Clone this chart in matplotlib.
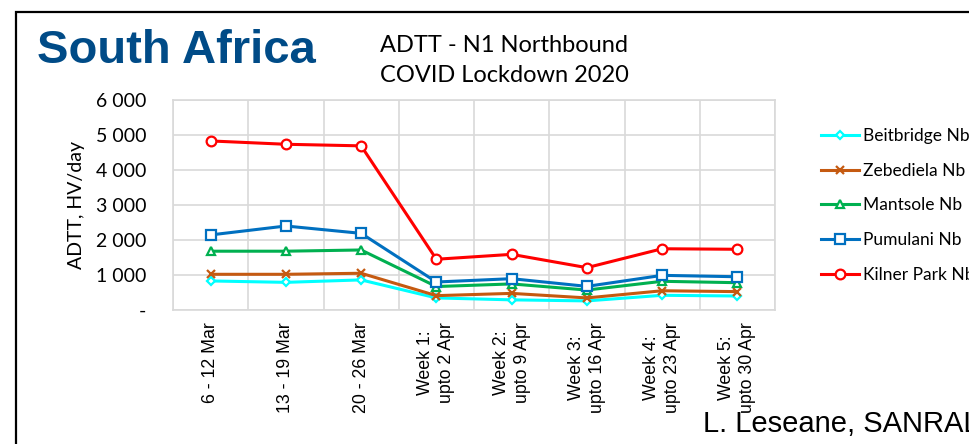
import matplotlib
matplotlib.use("Agg")
import matplotlib.pyplot as plt
from matplotlib.patches import Rectangle
from matplotlib.ticker import FuncFormatter, MultipleLocator, FixedLocator

W, H = 969, 444

# ---- data ----
weeks = ["6 - 12 Mar", "13 - 19 Mar", "20 - 26 Mar",
         "Week 1:\nupto 2 Apr", "Week 2:\nupto 9 Apr", "Week 3:\nupto 16 Apr",
         "Week 4:\nupto 23 Apr", "Week 5:\nupto 30 Apr"]
beitbridge = [830, 790, 860, 345, 290, 260, 420, 400]
zebediela = [1020, 1020, 1050, 410, 475, 345, 550, 525]
mantsole = [1680, 1680, 1715, 670, 745, 570, 820, 780]
pumulani = [2145, 2400, 2190, 800, 895, 675, 990, 950]
kilner_park = [4830, 4735, 4690, 1450, 1590, 1210, 1750, 1735]

series = [
    ("Beitbridge Nb", beitbridge, "#00FFFF", "D", 4),
    ("Zebediela Nb", zebediela, "#C55A11", "x", 6),
    ("Mantsole Nb", mantsole, "#00B050", "^", 6),
    ("Pumulani Nb", pumulani, "#0070C0", "s", 7),
    ("Kilner Park Nb", kilner_park, "#FF0000", "o", 7),
]

CAL = ["Lato", "DejaVu Sans"]
ARIAL = ["Liberation Sans", "DejaVu Sans"]
GRID = "#D9D9D9"

fig = plt.figure(figsize=(W / 100, H / 100), dpi=100)
fig.patch.set_facecolor("white")

# outer slide frame (runs off the right and bottom edges)
fig.add_artist(Rectangle((16 / W, -0.2), 1.2, 1.2 - 12 / H, transform=fig.transFigure,
                         fill=False, ec="black", lw=1.6))

ax = fig.add_axes([173 / W, 1 - 310 / H, 602 / W, 210 / H])
x = list(range(len(weeks)))
for name, vals, col, mk, ms in series:
    ax.plot(x, vals, color=col, lw=2.2, marker=mk, ms=ms, mfc="white",
            mec=col, mew=1.6, label=name, zorder=3)

ax.set_xlim(-0.5, len(weeks) - 0.5)
ax.set_ylim(0, 6000)
ax.yaxis.set_major_locator(MultipleLocator(1000))
ax.yaxis.set_major_formatter(FuncFormatter(
    lambda v, p: "-" if v == 0 else f"{int(v):,}".replace(",", " ")))
ax.set_xticks(x)
ax.set_xticklabels(weeks, rotation=90, fontsize=12.8, family=ARIAL,
                   linespacing=1.3)
ax.xaxis.set_minor_locator(FixedLocator([i - 0.5 for i in range(len(weeks) + 1)]))
ax.grid(True, axis="y", which="major", color=GRID, lw=1.2)
ax.grid(True, axis="x", which="minor", color=GRID, lw=1.2)
ax.tick_params(axis="both", which="both", length=0)
ax.tick_params(axis="x", pad=9)
ax.tick_params(axis="y", pad=19, labelsize=14)
for lab in ax.get_yticklabels():
    lab.set_family(CAL)
for s in ax.spines.values():
    s.set_color(GRID)
    s.set_linewidth(1.2)
ax.set_ylabel("ADTT, HV/day", fontsize=14, family=CAL, labelpad=8)

fig.legend(loc="upper left", bbox_to_anchor=(814 / W, 1 - 121 / H), frameon=False,
           prop={"family": CAL, "size": 12.5}, handlelength=2.2, handletextpad=0.2,
           labelspacing=1.08, borderaxespad=0)

fig.text(37 / W, 1 - 51 / H, "South Africa", fontsize=34, fontweight="bold",
         color="#004B87", family=ARIAL, va="center")
fig.text(380 / W, 1 - 45 / H, "ADTT - N1 Northbound", fontsize=17, family=CAL,
         va="center")
fig.text(380 / W, 1 - 76 / H, "COVID Lockdown 2020", fontsize=17, family=CAL,
         va="center")
fig.text(703 / W, 1 - 424 / H, "L. Leseane, SANRAL", fontsize=21, family=ARIAL,
         va="center")

fig.savefig("out.png", dpi=100, facecolor="white")
